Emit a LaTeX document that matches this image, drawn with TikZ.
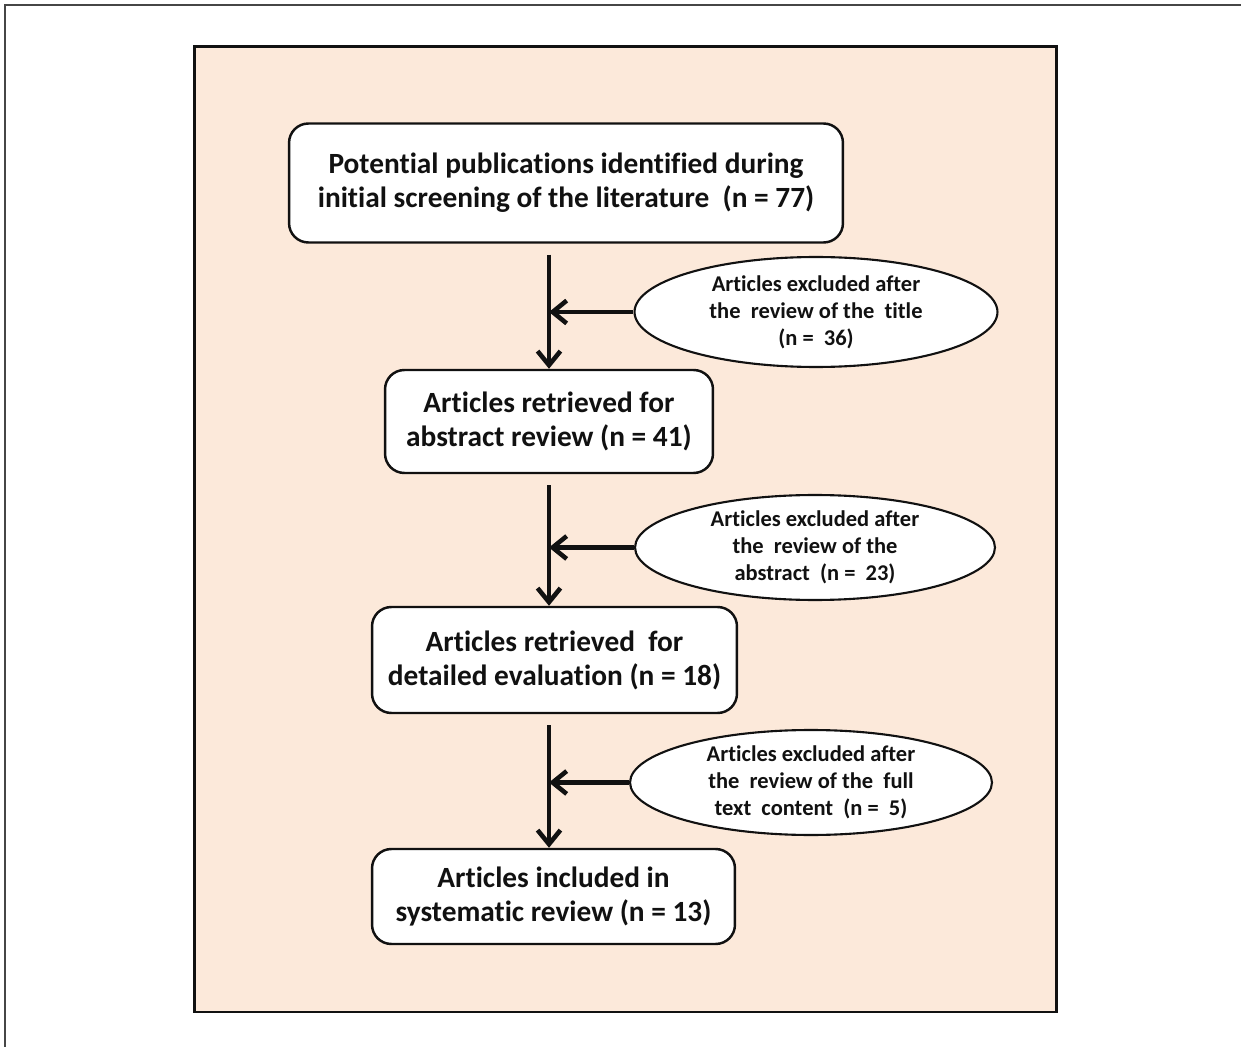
\documentclass[tikz,border=0pt]{standalone}
\usepackage{fontspec}
\setmainfont{Carlito}[Ligatures=NoCommon]
\usetikzlibrary{arrows.meta,shapes.geometric,positioning}
\definecolor{peachback}{RGB}{252,233,218}
\definecolor{framegray}{RGB}{70,70,70}
\definecolor{inkblack}{RGB}{17,17,17}

\begin{document}
\begin{tikzpicture}[x=0.02cm,y=-0.02cm,
  stagebox/.style={draw=inkblack,line width=1.4pt,fill=white,rounded corners=11pt,
    align=center,inner sep=0pt,text=inkblack,font=\bfseries\fontsize{16.7}{19.3}\selectfont},
  exclbubble/.style={ellipse,draw=inkblack,line width=1.2pt,fill=white,
    align=center,inner sep=0pt,text=inkblack,font=\bfseries\fontsize{12.8}{15.3}\selectfont},
  flow/.style={line width=2.6pt,inkblack,-{Straight Barb[length=8pt,width=13pt]}}]
  \useasboundingbox (0,0) rectangle (1241,1047);
  % page frame and panel
  \draw[framegray,line width=1.1pt] (5,1047) -- (5,5) -- (1241,5);
  \draw[inkblack,fill=peachback,line width=1.7pt] (194.5,46.5) rectangle (1056,1012);
  % stages
  \node[stagebox,minimum width=11.08cm,minimum height=2.38cm] (pool) at (566,183)
    {Potential publications identified during\\initial screening of the literature\ \ (n = 77)};
  \node[stagebox,minimum width=6.56cm,minimum height=2.06cm] (abstr) at (549,421.5)
    {Articles retrieved for\\abstract review (n = 41)};
  \node[stagebox,minimum width=7.3cm,minimum height=2.12cm] (detail) at (554.5,660)
    {Articles retrieved\ \ for\\detailed evaluation (n = 18)};
  \node[stagebox,minimum width=7.26cm,minimum height=1.9cm] (incl) at (553.5,896.5)
    {Articles included in\\systematic review (n = 13)};
  % exclusions
  \node[exclbubble,minimum width=7.26cm,minimum height=2.2cm] (byTitle) at (816,312)
    {Articles excluded after\\the\ \ review of the\ \ title\\(n =\ \ 36)};
  \node[exclbubble,minimum width=7.2cm,minimum height=2.1cm] (byAbstract) at (815,547.5)
    {Articles excluded after\\the\ \ review of the\\abstract\ \ (n =\ \ 23)};
  \node[exclbubble,minimum width=7.24cm,minimum height=2.1cm] (byText) at (811,782.5)
    {Articles excluded after\\the\ \ review of the\ \ full\\text\ \ content\ \ (n =\ \ 5)};
  % arrows
  \draw[flow,shorten <=0.22cm] (pool.south -| abstr.north) -- (abstr.north);
  \draw[flow,shorten <=0.22cm] (abstr.south) -- (abstr.south |- detail.north);
  \draw[flow,shorten <=0.22cm] (abstr.south |- detail.south) -- (abstr.south |- incl.north);
  \draw[flow] (byTitle.west) -- (byTitle.west -| abstr.north);
  \draw[flow] (byAbstract.west) -- (byAbstract.west -| abstr.north);
  \draw[flow] (byText.west) -- (byText.west -| abstr.north);
\end{tikzpicture}
\end{document}
